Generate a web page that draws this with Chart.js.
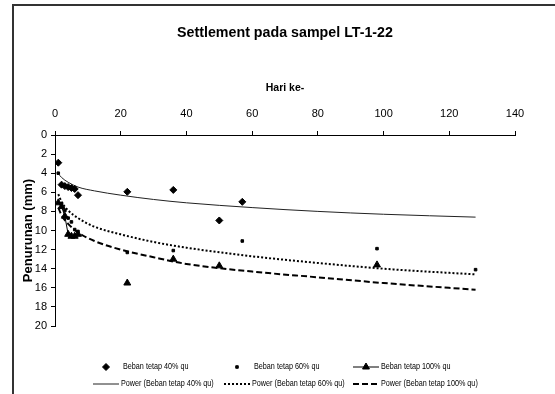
<!DOCTYPE html>
<html>
<head>
<meta charset="utf-8">
<script src="https://cdn.jsdelivr.net/npm/chart.js@4"></script>
<style>
  html, body { margin: 0; padding: 0; background: #fff; }
  canvas { display: block; }
</style>
</head>
<body>
<canvas id="chart" width="555" height="394"></canvas>
<script>
// readings (day, settlement in mm)
const days40 = [1, 2, 3, 4, 5, 6, 7, 22, 36, 50, 57];
const settle40 = [2.9, 5.2, 5.35, 5.45, 5.55, 5.65, 6.3, 5.95, 5.75, 8.95, 7.0];

const days60 = [1, 2, 3, 4, 5, 6, 7, 22, 36, 57, 98, 128];
const settle60 = [4.0, 7.2, 7.9, 8.7, 9.1, 9.9, 10.1, 12.3, 12.1, 11.1, 11.9, 14.1];

const days100 = [1, 2, 3, 4, 5, 6, 7, 22, 36, 50, 98];
const settle100 = [7.1, 7.5, 8.5, 10.4, 10.6, 10.6, 10.4, 15.5, 13.0, 13.7, 13.6];

// power trendlines
const trendDays = [1, 2, 4, 7, 12, 20, 30, 40, 60, 80, 100, 128];
const trend40 = [4.05, 4.45, 4.95, 5.45, 5.85, 6.3, 6.75, 7.1, 7.6, 8.0, 8.3, 8.6];
const trend60 = [6.2, 7.0, 7.9, 8.7, 9.6, 10.4, 11.2, 11.8, 12.7, 13.4, 14.0, 14.6];
const trend100 = [7.6, 8.4, 9.3, 10.2, 11.1, 12.0, 12.8, 13.5, 14.3, 14.9, 15.5, 16.2];

const xTicks = [0, 20, 40, 60, 80, 100, 120, 140];
const yTicks = [0, 2, 4, 6, 8, 10, 12, 14, 16, 18, 20];

const chartTitle = 'Settlement pada sampel LT-1-22';

const SANS = "'Liberation Sans', Arial, sans-serif";

const pts = (xs, ys) => xs.map((x, i) => ({ x: x, y: ys[i] }));

// text squeezed sideways, the original uses a narrow face
function narrowText(c, text, x, y, squeeze, align) {
  c.save();
  c.translate(x, y);
  c.scale(squeeze, 1);
  c.textAlign = align || 'left';
  c.fillText(text, 0, 0);
  c.restore();
}

// outer frame + title of the spreadsheet chart object
const framePlugin = {
  id: 'frame',
  beforeDraw(chart) {
    const c = chart.ctx;
    const area = chart.chartArea;
    c.save();
    c.fillStyle = '#fff';
    c.fillRect(0, 0, chart.width, chart.height);
    c.strokeStyle = '#333';
    c.lineWidth = 2;
    c.beginPath();
    c.moveTo(13, chart.height);
    c.lineTo(13, 5);
    c.lineTo(chart.width, 5);
    c.stroke();
    c.fillStyle = '#000';
    c.font = 'bold 15px ' + SANS;
    c.textBaseline = 'middle';
    narrowText(c, chartTitle, (area.left + area.right) / 2, 33, 0.95, 'center');
    c.restore();
  }
};

// legend in a 3 x 2 grid like the original
const legendPlugin = {
  id: 'gridLegend',
  afterDraw(chart) {
    const c = chart.ctx;
    const cols = [106, 237, 366];
    const rows = [chart.chartArea.bottom + 41, chart.chartArea.bottom + 58];
    c.save();
    c.font = '8.5px ' + SANS;
    c.textBaseline = 'middle';
    chart.data.datasets.forEach((ds, i) => {
      const cx = cols[i % 3];
      const cy = rows[Math.floor(i / 3)];
      if (ds.showLine) {
        c.strokeStyle = ds.borderColor;
        c.lineWidth = ds.borderWidth;
        c.setLineDash(ds.borderDash || []);
        c.beginPath();
        c.moveTo(cx - 13, cy);
        c.lineTo(cx + 13, cy);
        c.stroke();
        c.setLineDash([]);
      }
      if (ds.pointRadius > 0) {
        c.fillStyle = '#000';
        c.strokeStyle = '#000';
        Chart.helpers.drawPoint(c, {
          pointStyle: ds.pointStyle,
          radius: ds.pointRadius,
          rotation: 0,
          borderWidth: 1
        }, cx, cy);
      }
      c.fillStyle = '#000';
      narrowText(c, ds.label, cx + (ds.showLine ? 15 : 17), cy, 0.85);
    });
    c.restore();
  }
};

new Chart(document.getElementById('chart'), {
  type: 'scatter',
  data: {
    datasets: [
      {
        label: 'Beban tetap 40% qu',
        data: pts(days40, settle40),
        pointStyle: 'rectRot',
        pointRadius: 3.5,
        backgroundColor: '#000',
        borderColor: '#000',
        borderWidth: 1,
        showLine: false
      },
      {
        label: 'Beban tetap 60% qu',
        data: pts(days60, settle60),
        pointStyle: 'rect',
        pointRadius: 1.8,
        backgroundColor: '#000',
        borderColor: '#000',
        borderWidth: 1,
        showLine: false
      },
      {
        label: 'Beban tetap 100% qu',
        data: pts(days100, settle100),
        pointStyle: 'triangle',
        pointRadius: 4,
        backgroundColor: '#000',
        borderColor: '#000',
        borderWidth: 1,
        showLine: true,
        segment: {
          borderColor: ctx => (ctx.p1.parsed.x - ctx.p0.parsed.x > 1 ? 'transparent' : '#000')
        }
      },
      {
        label: 'Power (Beban tetap 40% qu)',
        data: pts(trendDays, trend40),
        showLine: true,
        pointRadius: 0,
        borderColor: '#222',
        borderWidth: 1,
        cubicInterpolationMode: 'monotone'
      },
      {
        label: 'Power (Beban tetap 60% qu)',
        data: pts(trendDays, trend60),
        showLine: true,
        pointRadius: 0,
        borderColor: '#000',
        borderWidth: 2,
        borderDash: [2, 2],
        cubicInterpolationMode: 'monotone'
      },
      {
        label: 'Power (Beban tetap 100% qu)',
        data: pts(trendDays, trend100),
        showLine: true,
        pointRadius: 0,
        borderColor: '#000',
        borderWidth: 2,
        borderDash: [6, 3],
        cubicInterpolationMode: 'monotone'
      }
    ]
  },
  options: {
    responsive: false,
    animation: false,
    layout: { padding: { left: 0, top: 0, right: 40, bottom: 68 } },
    plugins: {
      legend: { display: false },
      tooltip: { enabled: false },
      title: { display: false }
    },
    scales: {
      x: {
        type: 'linear',
        position: 'top',
        min: 0,
        max: 140,
        afterBuildTicks: s => { s.ticks = xTicks.map(v => ({ value: v })); },
        afterFit: s => { s.height = 135; },
        ticks: { color: '#000', font: { family: SANS, size: 11 }, padding: 10, maxRotation: 0 },
        grid: { drawOnChartArea: false, tickLength: 4, color: '#000' },
        border: { color: '#000', width: 1 },
        title: {
          display: true,
          text: 'Hari ke-',
          color: '#000',
          font: { family: SANS, size: 10.5, weight: 'bold' },
          padding: { top: 82, bottom: 0 }
        }
      },
      y: {
        type: 'linear',
        reverse: true,
        min: 0,
        max: 20,
        afterBuildTicks: s => { s.ticks = yTicks.map(v => ({ value: v })); },
        afterFit: s => { s.width = 55; },
        ticks: { color: '#000', font: { family: SANS, size: 11 }, padding: 4 },
        grid: { drawOnChartArea: false, tickLength: 4, color: '#000' },
        border: { color: '#000', width: 1 },
        title: {
          display: true,
          text: 'Penurunan (mm)',
          color: '#000',
          font: { family: SANS, size: 13, weight: 'bold' },
          padding: { top: 21, bottom: 0 }
        }
      }
    }
  },
  plugins: [framePlugin, legendPlugin]
});
</script>
</body>
</html>
